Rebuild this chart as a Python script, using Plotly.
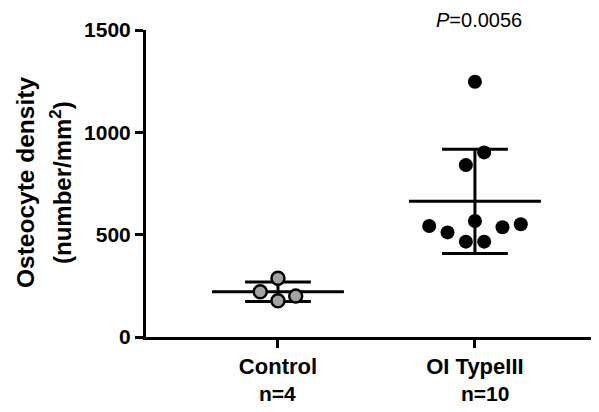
import numpy as np
import plotly.graph_objects as go

categories = ["Control", "OI TypeIII"]
n_labels = ["n=4", "n=10"]
control_values = [287, 221, 177, 200]
control_jitter = [0.0, -0.09, 0.0, 0.09]
oi_values = [1247, 902, 840, 567, 542, 511, 466, 466, 536, 551]
oi_jitter = [0.0, 0.047, -0.046, 0.0, -0.232, -0.139, -0.046, 0.047, 0.14, 0.233]
y_ticks = [0, 500, 1000, 1500]
p_text = "<i>P</i>=0.0056"

FONT = "Liberation Sans, Arial, sans-serif"
fig = go.Figure()

groups = [control_values, oi_values]
for i, vals in enumerate(groups):
    m = float(np.mean(vals))
    sd = float(np.std(vals, ddof=1))
    line = dict(color="black", width=3)
    fig.add_trace(go.Scatter(x=[i - 0.335, i + 0.335], y=[m, m], mode="lines",
                             line=line, showlegend=False, hoverinfo="skip"))
    fig.add_trace(go.Scatter(x=[i, i], y=[m - sd, m + sd], mode="lines",
                             line=line, showlegend=False, hoverinfo="skip"))
    for cap in (m - sd, m + sd):
        fig.add_trace(go.Scatter(x=[i - 0.167, i + 0.167], y=[cap, cap], mode="lines",
                                 line=line, showlegend=False, hoverinfo="skip"))

fig.add_trace(go.Scatter(
    x=[0 + j for j in control_jitter], y=control_values, mode="markers",
    marker=dict(size=13, color="#a3a3a3", line=dict(color="black", width=2.4)),
    showlegend=False))
fig.add_trace(go.Scatter(
    x=[1 + j for j in oi_jitter], y=oi_values, mode="markers",
    marker=dict(size=14, color="black", line=dict(width=0)),
    showlegend=False))

# page body adds an 8px offset; figure sized to fit the 599x412 window
fig.update_layout(
    width=591, height=404,
    margin=dict(l=138, r=0, t=22, b=75),
    plot_bgcolor="white", paper_bgcolor="white",
    font=dict(family=FONT, color="black"),
    xaxis=dict(range=[-0.67, 1.63], tickmode="array", tickvals=[0, 1],
               ticktext=[f"<b>{c}</b>" for c in categories],
               tickfont=dict(size=22, family=FONT),
               showline=True, linewidth=3, linecolor="black",
               ticks="outside", ticklen=8, tickwidth=3, tickcolor="black",
               showgrid=False, zeroline=False),
    yaxis=dict(range=[0, 1500], tickmode="array", tickvals=y_ticks,
               ticktext=[f"<b>{v}</b>" for v in y_ticks],
               tickfont=dict(size=21, family=FONT),
               showline=True, linewidth=3, linecolor="black",
               ticks="outside", ticklen=8, tickwidth=3, tickcolor="black",
               showgrid=False, zeroline=False),
)

fig.add_annotation(text="<b>Osteocyte density</b>", textangle=-90,
                   xref="paper", yref="paper", x=(25 - 146) / 453, y=(337 - 183) / 307,
                   showarrow=False, font=dict(size=24.5, family=FONT),
                   xanchor="center", yanchor="middle")
fig.add_annotation(text="<b>(number/mm<sup>2</sup>)</b>", textangle=-90,
                   xref="paper", yref="paper", x=(61 - 146) / 453, y=(337 - 183) / 307,
                   showarrow=False, font=dict(size=24, family=FONT),
                   xanchor="center", yanchor="middle")

for i, lab in enumerate(n_labels):
    fig.add_annotation(text=f"<b>{lab}</b>", xref="x", yref="paper",
                       x=i + (0.05 if i == 1 else 0.0), y=-(393 - 337) / 307,
                       showarrow=False, font=dict(size=21, family=FONT),
                       xanchor="center", yanchor="middle")

fig.add_annotation(text=p_text, xref="x", yref="paper", x=1.02, y=(337 - 20) / 307,
                   showarrow=False, font=dict(size=20, family=FONT),
                   xanchor="center", yanchor="middle")

fig.write_html("out.html")
